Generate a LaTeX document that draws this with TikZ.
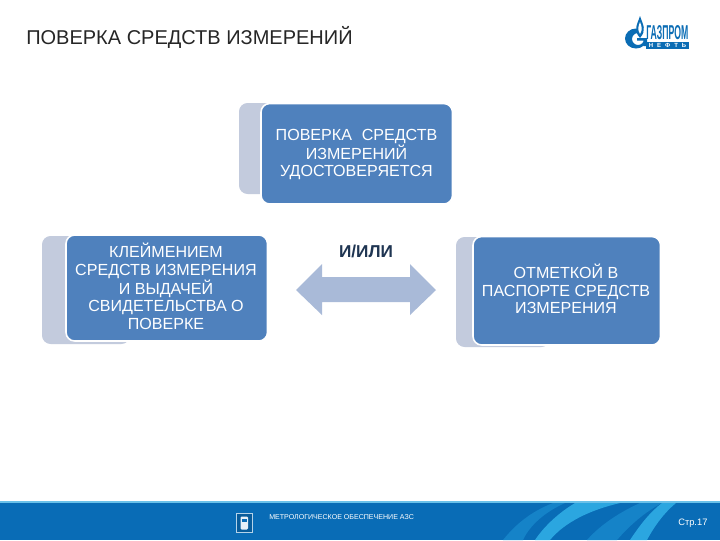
\documentclass[tikz,border=0pt]{standalone}
\usepackage{fontspec}
\usepackage{graphicx}
\setmainfont{Liberation Sans}
\usetikzlibrary{calc}
\definecolor{boxblue}{HTML}{4F81BD}
\definecolor{backgrey}{HTML}{C3CBDD}
\definecolor{arrowblue}{HTML}{A9BAD8}
\definecolor{footblue}{HTML}{096CB6}
\definecolor{footlight}{HTML}{2BA6E0}
\definecolor{footmid}{HTML}{1583C8}
\definecolor{logoblue}{HTML}{0A6CB4}
\definecolor{darktext}{HTML}{1F3552}
\tikzset{
  x=0.75pt,y=-0.75pt,
  frontbox/.style={draw=white,line width=1.2pt,fill=boxblue,rounded corners=6.5pt},
  boxtext/.style={text=white,align=center,font=\fontsize{12.05pt}{13.1pt}\selectfont,inner sep=0pt},
}
\begin{document}
\begin{tikzpicture}
\useasboundingbox (0,0) rectangle (720,540);
\fill[white] (0,0) rectangle (720,540);
% title
\node[anchor=base west,inner sep=0pt,font=\fontsize{15pt}{18pt}\selectfont,text=black!85] (title) at (26,44.5) {ПОВЕРКА СРЕДСТВ ИЗМЕРЕНИЙ};
% logo
\fill[logoblue,even odd rule] (636,38.5) circle (11 and 10) (638,39) circle (6 and 6);
\fill[white] (637,28) rectangle (648,38);
\fill[logoblue] (637,38) rectangle (647,40.5) (643.5,38) rectangle (647,46);
\fill[logoblue] (640,38) .. controls (633,30) and (637,25) .. (640,16) .. controls (643,25) and (647,30) .. (640,38) -- cycle;
\fill[white] (640,34) .. controls (637,29) and (638.5,26) .. (640,22) .. controls (641.5,26) and (643,29) .. (640,34) -- cycle;
\node[anchor=north west,inner sep=0pt,text=logoblue] (logotop) at (646,25) {\resizebox{31.5pt}{10.5pt}{\bfseries ГАЗПРОМ}};
\fill[logoblue] (646,42) rectangle (688.5,49);
\node[inner sep=0pt,font=\fontsize{4.5pt}{5pt}\bfseries\selectfont,text=white] (logobot) at (667.5,45.5) {Н\,\,\,\,Е\,\,\,\,Ф\,\,\,\,Т\,\,\,\,Ь};
% top box
\fill[backgrey,rounded corners=6.5pt] (239,103) rectangle (330,194);
\draw[frontbox] (261,103.5) rectangle (452.5,204);
\node[boxtext] (t1) at (356.5,154.5) {ПОВЕРКА \,\,СРЕДСТВ\\ИЗМЕРЕНИЙ\\УДОСТОВЕРЯЕТСЯ};
% left box
\fill[backgrey,rounded corners=6.5pt] (42,236) rectangle (130,344);
\draw[frontbox] (66,235) rectangle (267.5,341);
\node[boxtext] (t2) at (166,286.5) {КЛЕЙМЕНИЕМ\\СРЕДСТВ ИЗМЕРЕНИЯ\\И ВЫДАЧЕЙ\\СВИДЕТЕЛЬСТВА О\\ПОВЕРКЕ};
% right box
\fill[backgrey,rounded corners=6.5pt] (456,237) rectangle (550,347);
\draw[frontbox] (473,236.5) rectangle (660.5,345);
\node[boxtext] (t3) at (566,289) {ОТМЕТКОЙ В\\ПАСПОРТЕ СРЕДСТВ\\ИЗМЕРЕНИЯ};
% arrow
\fill[arrowblue] (296,290) -- (322,264) -- (322,277) -- (410,277) -- (410,264) -- (436,290) -- (410,315) -- (410,302) -- (322,302) -- (322,315) -- cycle;
\node[inner sep=0pt,font=\fontsize{12.9pt}{14pt}\bfseries\selectfont,text=darktext] (orlabel) at (366,251) {И/ИЛИ};
% footer
\fill[footblue] (0,502) rectangle (720,540);
\fill[footlight!70!white] (0,500.5) rectangle (720,502.5);
\fill[footmid] (503,540) .. controls (515,525) and (530,512) .. (553,503) -- (565,503) .. controls (545,512) and (530,525) .. (523,540) -- cycle;
\fill[footlight] (535,540) .. controls (545,525) and (560,512) .. (575,503) -- (620,503) .. controls (590,510) and (565,522) .. (550,540) -- cycle;
\fill[footmid] (587,540) .. controls (600,525) and (620,512) .. (640,503) -- (662,503) .. controls (645,512) and (630,525) .. (617,540) -- cycle;
\fill[footlight] (630,540) .. controls (640,525) and (650,512) .. (662,503) -- (676,503) .. controls (665,512) and (655,525) .. (647,540) -- cycle;
% footer icon
\draw[white!70!footblue,line width=0.7pt,fill=footblue!85!black] (236.5,513) rectangle (252.5,532);
\fill[white!90!footblue,rounded corners=0.8pt] (240.5,516.5) rectangle (248,529.5);
\fill[footblue] (241.8,518.5) rectangle (246.7,522);
\node[anchor=base west,inner sep=0pt,font=\fontsize{5.3pt}{6pt}\selectfont,text=white] (foottext) at (269,519.5) {МЕТРОЛОГИЧЕСКОЕ ОБЕСПЕЧЕНИЕ АЗС};
\node[anchor=base west,inner sep=0pt,font=\fontsize{7pt}{8pt}\selectfont,text=white] (pagenum) at (678,525.5) {Стр.17};
\end{tikzpicture}
\end{document}
